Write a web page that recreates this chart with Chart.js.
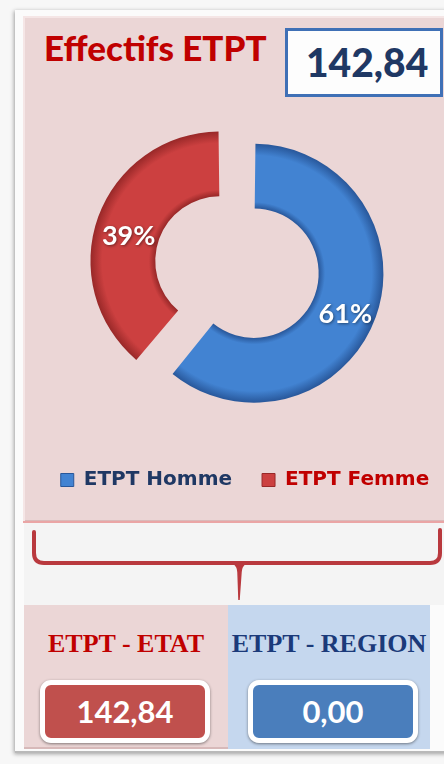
<!DOCTYPE html>
<html>
<head>
<meta charset="utf-8">
<script src="https://cdn.jsdelivr.net/npm/chart.js@4/dist/chart.umd.min.js"></script>
<style>
  html, body { margin: 0; padding: 0; }
  body { width: 444px; height: 764px; background: #f7f7f7; position: relative; overflow: hidden; font-family: Lato, "Open Sans", sans-serif; }
  .abs { position: absolute; }
  #frame { left: 15px; top: 10px; width: 445px; height: 743px; background: #fbfbfb; box-shadow: -1px 1px 4px rgba(0,0,0,0.35); }
  #panel { left: 23px; top: 16px; width: 440px; height: 505px; background: #ebd6d6;
           box-shadow: inset 2px 2px 0 #f5e6e6, inset -1px -1px 0 #d9b9b9; border-bottom: 2px solid #eaa5a5; }
  #title { left: 44px; top: 26px; font-size: 35px; font-weight: 900; color: #c00000; white-space: nowrap; letter-spacing: 0px; }
  #totalBox { left: 285px; top: 28px; width: 152px; height: 63px; background: #fdfdfd; border: 3px solid #3f70b6; }
  #totalTxt { left: 18px; top: 8px; font-size: 39px; font-weight: 900; color: #1f3864; white-space: nowrap; line-height: 46px; }
  #mid { left: 24px; top: 523px; width: 430px; height: 82px; background: #f4f4f4; }
  #chartCanvas { left: 0px; top: 100px; }
  #etat { left: 24px; top: 605px; width: 204px; height: 144px; background: #ebd6d6; box-shadow: inset 0 -2px 0 #d7b9b9; }
  #region { left: 228px; top: 605px; width: 202px; height: 144px; background: #c5d7ee; }
  .lbl { position: absolute; left: 0; width: 100%; top: 24px; text-align: center; font-family: "Liberation Serif", "DejaVu Serif", serif; font-weight: 700; font-size: 26px; white-space: nowrap; }
  .vbox { position: absolute; top: 75px; width: 160px; height: 53px; border: 5px solid #ffffff; border-radius: 11px;
          box-shadow: 0 1px 3px rgba(0,0,0,0.45); color: #ffffff; font-weight: 700; font-size: 31px; text-align: center; line-height: 52px; }
  #bottomLine { left: 15px; top: 751px; width: 440px; height: 2px; background: #b9b9b9; }
</style>
</head>
<body>
<div id="frame" class="abs"></div>
<div id="panel" class="abs"></div>
<div id="title" class="abs"></div>
<div id="totalBox" class="abs"><div id="totalTxt" class="abs"></div></div>
<div id="mid" class="abs"></div>
<svg class="abs" style="left:0;top:0" width="444" height="764">
  <path d="M34 532 L34 553 Q34 563 44 563 L430 563 Q440 563 440 553 L440 530" fill="none" stroke="#b9393e" stroke-width="4" stroke-linecap="round"/>
  <path d="M233 563 Q238 566 238 572 L239 600 L241 572 Q241 566 246 563 Z" fill="#b9393e" stroke="#b9393e" stroke-width="1.5"/>
</svg>
<canvas id="chartCanvas" class="abs" width="490" height="400"></canvas>
<div id="etat" class="abs">
  <div class="lbl" id="etatLbl" style="color:#c00000"></div>
  <div class="vbox" id="etatVal" style="left:16px;background:#c0504d"></div>
</div>
<div id="region" class="abs">
  <div class="lbl" id="regionLbl" style="color:#1b3a7a"></div>
  <div class="vbox" id="regionVal" style="left:20px;background:#4a7ebc"></div>
</div>
<div id="bottomLine" class="abs"></div>

<script>
// ---- data ----
const categories = ['ETPT Homme', 'ETPT Femme'];
const shares = [61, 39];
const sliceColors = ['#4283d2', '#cc4040'];
const sliceEdgeColors = ['#28579a', '#982828'];
const legendTextColors = ['#1f3864', '#c00000'];
const titleText = 'Effectifs ETPT';
const totalText = '142,84';
const splitLabels = ['ETPT - ETAT', 'ETPT - REGION'];
const splitValues = ['142,84', '0,00'];

document.getElementById('title').textContent = titleText;
document.getElementById('totalTxt').textContent = totalText;
document.getElementById('etatLbl').textContent = splitLabels[0];
document.getElementById('regionLbl').textContent = splitLabels[1];
document.getElementById('etatVal').textContent = splitValues[0];
document.getElementById('regionVal').textContent = splitValues[1];

const RADIUS = 120;
const CUTOUT = 0.46;
const OFFSETS = [38, 106];

function arcGrowth(offset, circumference) {
  const t = offset / 4;
  const fix = 1 - Math.sin(Math.min(Math.PI, circumference));
  return t * fix;
}

function fillFor(context) {
  const i = context.dataIndex;
  const chart = context.chart;
  const area = chart.chartArea;
  if (!area) return sliceColors[i];
  const cx = (area.left + area.right) / 2;
  const cy = (area.top + area.bottom) / 2;
  const total = shares.reduce((a, b) => a + b, 0);
  const circ = shares[i] / total * Math.PI * 2;
  const g = arcGrowth(OFFSETS[i], circ);
  const rin = RADIUS * CUTOUT + g;
  const rout = RADIUS + g;
  const grad = chart.ctx.createRadialGradient(cx, cy, rin, cx, cy, rout);
  grad.addColorStop(0, sliceEdgeColors[i]);
  grad.addColorStop(0.1, sliceColors[i]);
  grad.addColorStop(0.82, sliceColors[i]);
  grad.addColorStop(1, sliceEdgeColors[i]);
  return grad;
}

const pctLabels = {
  id: 'pctLabels',
  afterDatasetsDraw(chart) {
    const ctx = chart.ctx;
    const meta = chart.getDatasetMeta(0);
    const data = chart.data.datasets[0].data;
    const total = data.reduce((a, b) => a + b, 0);
    ctx.save();
    ctx.font = 'bold 27px Lato, "Open Sans", sans-serif';
    ctx.fillStyle = '#ffffff';
    ctx.textAlign = 'center';
    ctx.textBaseline = 'middle';
    ctx.shadowColor = 'rgba(0,0,0,0.45)';
    ctx.shadowBlur = 3;
    ctx.shadowOffsetX = 1;
    ctx.shadowOffsetY = 1;
    meta.data.forEach((arc, i) => {
      const off = arc.options.offset || 0;
      const t = off / 4;
      const g = arcGrowth(off, arc.circumference);
      const half = (arc.startAngle + arc.endAngle) / 2;
      const r = t + (arc.innerRadius + arc.outerRadius) / 2 + g;
      const x = arc.x + Math.cos(half) * r;
      const y = arc.y + Math.sin(half) * r + 8;
      ctx.fillText(Math.round(data[i] / total * 100) + '%', x, y);
    });
    ctx.restore();
  }
};

new Chart(document.getElementById('chartCanvas'), {
  type: 'doughnut',
  data: {
    labels: categories,
    datasets: [{
      data: shares,
      backgroundColor: fillFor,
      borderWidth: 0,
      offset: OFFSETS,
      hoverOffset: 0
    }]
  },
  options: {
    responsive: false,
    animation: false,
    events: [],
    radius: RADIUS,
    cutout: (CUTOUT * 100) + '%',
    layout: { padding: { left: 0, right: 0, top: 0, bottom: 0 } },
    plugins: {
      tooltip: { enabled: false },
      legend: {
        position: 'bottom',
        labels: {
          boxWidth: 13,
          boxHeight: 13,
          padding: 30,
          font: { family: 'DejaVu Sans', weight: 'bold', size: 20 },
          generateLabels: (chart) => categories.map((c, i) => ({
            text: c,
            fillStyle: sliceColors[i],
            strokeStyle: sliceEdgeColors[i],
            lineWidth: 1,
            fontColor: legendTextColors[i],
            hidden: false,
            index: i
          }))
        }
      }
    }
  },
  plugins: [pctLabels]
});
</script>
</body>
</html>
